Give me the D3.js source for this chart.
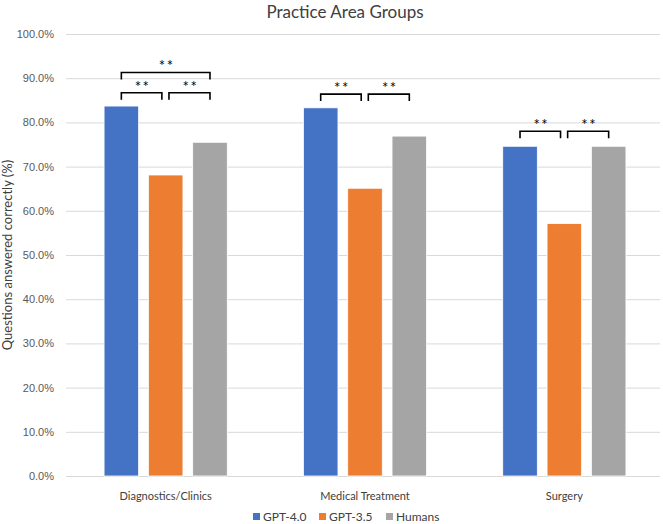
<!DOCTYPE html>
<html>
<head>
<meta charset="utf-8">
<script src="https://cdn.jsdelivr.net/npm/d3@7"></script>
<style>
  body { margin: 0; background: #fff; }
  svg { font-family: Lato, "Open Sans", sans-serif; }
</style>
</head>
<body>
<script>
const WIDTH = 663;
const HEIGHT = 524;

const categories = ["Diagnostics/Clinics", "Medical Treatment", "Surgery"];
const seriesNames = ["GPT-4.0", "GPT-3.5", "Humans"];
const colors = ["#4472C4", "#ED7D31", "#A5A5A5"];
const gpt4 = [83.7, 83.3, 74.6];
const gpt35 = [68.1, 65.1, 57.1];
const humans = [75.5, 76.9, 74.6];
const yTicks = [0, 10, 20, 30, 40, 50, 60, 70, 80, 90, 100];

// significance brackets: category, from series, to series, level (%)
const brackets = [
  { cat: 0, a: 0, b: 1, level: 86.7 },
  { cat: 0, a: 1, b: 2, level: 86.7 },
  { cat: 0, a: 0, b: 2, level: 91.3 },
  { cat: 1, a: 0, b: 1, level: 86.4 },
  { cat: 1, a: 1, b: 2, level: 86.4 },
  { cat: 2, a: 0, b: 1, level: 78.0 },
  { cat: 2, a: 1, b: 2, level: 78.0 }
];

const series = [gpt4, gpt35, humans];

const svg = d3.select("body").append("svg")
    .attr("width", WIDTH)
    .attr("height", HEIGHT);

const x = d3.scaleBand()
    .domain(categories)
    .range([66, 664]);

const x1 = d3.scaleBand()
    .domain(d3.range(series.length))
    .range([x.bandwidth() / 2 - 61.6, x.bandwidth() / 2 + 61.6])
    .paddingInner(0.22);

const y = d3.scaleLinear()
    .domain([0, 100])
    .range([476, 34]);

// gridlines + tick labels
const yAxis = d3.axisLeft(y)
    .tickValues(yTicks)
    .tickSize(-(660 - 66))
    .tickPadding(12)
    .tickFormat(d => d.toFixed(1) + "%");

const ya = svg.append("g")
    .attr("transform", "translate(66,0)")
    .call(yAxis);
ya.select(".domain").remove();
ya.selectAll(".tick line").attr("stroke", "#d9d9d9");
ya.selectAll(".tick text")
    .attr("fill", "#595959")
    .style("font-size", "11px");

// bars
categories.forEach((cat, ci) => {
  const g = svg.append("g").attr("transform", `translate(${x(cat)},0)`);
  g.selectAll("rect")
    .data(series.map((s, si) => ({ si, v: s[ci] })))
    .enter().append("rect")
    .attr("x", d => x1(d.si))
    .attr("width", x1.bandwidth())
    .attr("y", d => y(d.v))
    .attr("height", d => y(0) - y(d.v))
    .attr("fill", d => colors[d.si])
    .attr("stroke", "#fff")
    .attr("stroke-width", 0.8);
});

// category labels
svg.append("g").selectAll("text")
  .data(categories).enter().append("text")
  .attr("x", d => x(d) + x.bandwidth() / 2)
  .attr("y", 500)
  .attr("text-anchor", "middle")
  .attr("fill", "#404040")
  .style("font-size", "11px")
  .text(d => d);

// brackets
const bg = svg.append("g");
brackets.forEach(b => {
  const base = x(categories[b.cat]);
  const cx = si => base + x1(si) + x1.bandwidth() / 2;
  let x0 = cx(b.a), xe = cx(b.b);
  if (b.b - b.a === 1) {
    if (b.a === 1) x0 += 3.3;
    if (b.b === 1) xe -= 3.8;
  }
  const yl = y(b.level);
  bg.append("path")
    .attr("d", `M${x0},${yl + 7}V${yl}H${xe}V${yl + 7}`)
    .attr("fill", "none")
    .attr("stroke", "#000")
    .attr("stroke-width", 1.6);
  bg.append("text")
    .attr("x", (x0 + xe) / 2 + 1)
    .attr("y", yl - 1)
    .attr("text-anchor", "middle")
    .attr("fill", "#000")
    .style("font-size", "15px")
    .style("letter-spacing", "1.5px")
    .text("**");
});

// title
svg.append("text")
  .attr("x", 345)
  .attr("y", 18)
  .attr("text-anchor", "middle")
  .attr("fill", "#404040")
  .style("font-size", "17px")
  .text("Practice Area Groups");

// y axis title
svg.append("text")
  .attr("transform", `translate(12,${(y(0) + y(100)) / 2}) rotate(-90)`)
  .attr("text-anchor", "middle")
  .attr("fill", "#404040")
  .style("font-size", "13px")
  .text("Questions answered correctly (%)");

// legend
const legendX = [253, 319, 386];
const lg = svg.append("g");
seriesNames.forEach((name, i) => {
  lg.append("rect")
    .attr("x", legendX[i])
    .attr("y", 513)
    .attr("width", 7)
    .attr("height", 7)
    .attr("fill", colors[i]);
  lg.append("text")
    .attr("x", legendX[i] + 10)
    .attr("y", 521)
    .attr("fill", "#404040")
    .style("font-size", "12px")
    .text(name);
});
</script>
</body>
</html>
